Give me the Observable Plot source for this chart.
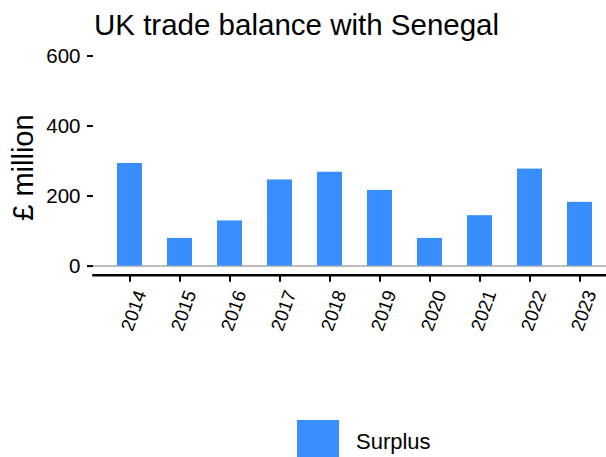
<!DOCTYPE html>
<html>
<head>
<meta charset="utf-8">
<script src="https://cdn.jsdelivr.net/npm/d3@7"></script>
<script src="https://cdn.jsdelivr.net/npm/@observablehq/plot@0.6"></script>
<style>
  html, body { margin: 0; padding: 0; background: #fff; }
  body { width: 606px; height: 457px; overflow: hidden; position: relative; font-family: "Liberation Sans", Arial, sans-serif; }
  #title { position: absolute; left: 94px; top: 10px; font-size: 29.5px; line-height: 1; color: #000; white-space: nowrap; }
  #chart { position: absolute; left: 0; top: 0; }
  #legend { position: absolute; left: 297px; top: 420px; display: flex; align-items: flex-start; }
  #legend .sw { width: 42px; height: 42px; }
  #legend .lab { font-size: 22px; line-height: 1; margin-left: 17px; margin-top: 11px; color: #000; }
</style>
</head>
<body>
<div id="title">UK trade balance with Senegal</div>
<div id="chart"></div>
<div id="legend"></div>
<script>
const years = ["2014", "2015", "2016", "2017", "2018", "2019", "2020", "2021", "2022", "2023"];
const surplus = [293, 79, 129, 246, 268, 216, 79, 144, 277, 182];
const yTicks = [0, 200, 400, 600];
const seriesName = "Surplus";
const barColor = "#388EFF";

const data = years.map((y, i) => ({year: y, value: surplus[i]}));

const chart = Plot.plot({
  width: 606,
  height: 457,
  marginLeft: 93,
  marginRight: 0,
  marginTop: 55.5,
  marginBottom: 182.3,
  style: {fontFamily: "Liberation Sans, Arial, sans-serif", color: "#000", background: "transparent"},
  x: {type: "band", domain: years, paddingInner: 0.5, paddingOuter: 0.25, insetLeft: 11, insetRight: 2},
  y: {domain: [-26, 600]},
  marks: [
    Plot.ruleY([0], {stroke: "#a6a6a6", strokeWidth: 1.5}),
    Plot.barY(data, {x: "year", y: "value", fill: barColor}),
    Plot.frame({anchor: "bottom", stroke: "#000", strokeWidth: 2.5}),
    Plot.axisY(yTicks, {tickSize: 6, tickPadding: 7, fontSize: 20.5, stroke: "#000", strokeWidth: 2, label: null}),
    Plot.axisX({tickSize: 7, tickFormat: () => "", stroke: "#000", strokeWidth: 2, label: null}),
    Plot.axisX({tickSize: 0, tickPadding: 16, dx: 11, tickRotate: -70, fontSize: 18.7, label: null}),
    Plot.text(["£ million"], {frameAnchor: "left", textAnchor: "middle", rotate: -90, dx: -61, dy: 2, fontSize: 29, lineAnchor: "bottom", fill: "#000"})
  ]
});
document.getElementById("chart").appendChild(chart);

const lg = document.getElementById("legend");
lg.innerHTML = `<div class="sw" style="background:${barColor}"></div><div class="lab">${seriesName}</div>`;
</script>
</body>
</html>
